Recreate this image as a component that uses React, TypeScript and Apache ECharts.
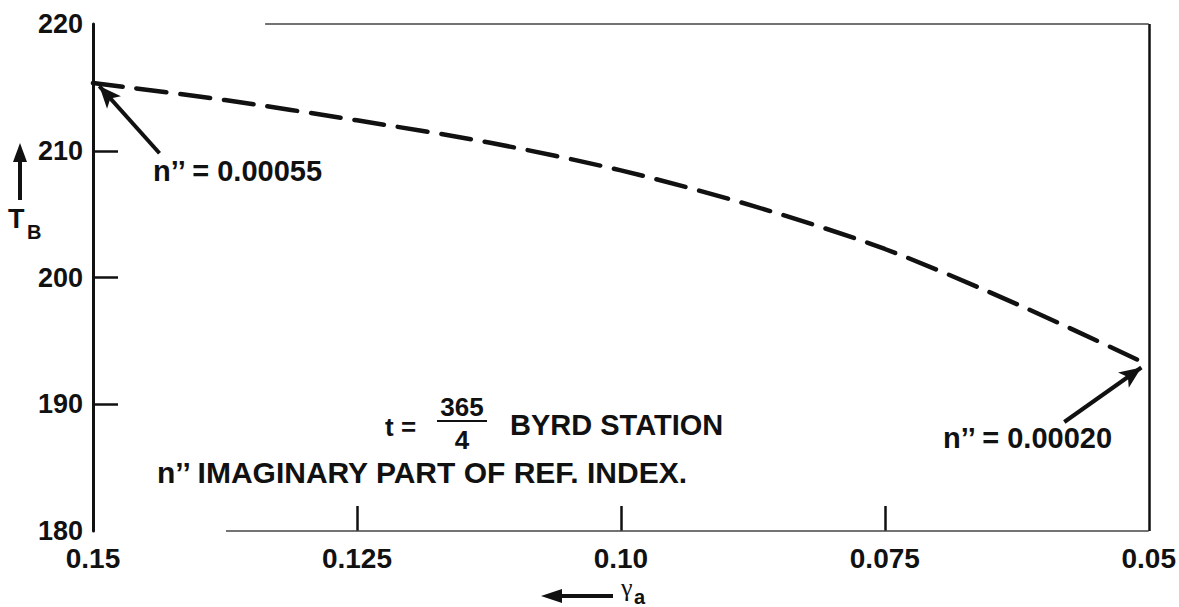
import React, { useEffect, useRef } from "react";
import * as echarts from "echarts";

const gammaValues = [0.15, 0.1375, 0.125, 0.1125, 0.1, 0.0875, 0.075, 0.0625, 0.05];
const tbValues = [215.35, 214.0, 212.4, 210.65, 208.45, 205.65, 202.25, 197.9, 193.1];
const xTickValues = [0.15, 0.125, 0.1, 0.075, 0.05];
const xTickLabels = ["0.15", "0.125", "0.10", "0.075", "0.05"];
const yTickValues = [180, 190, 200, 210, 220];
const yTickLabels = ["180", "190", "200", "210", "220"];
const yInnerTicks = [190, 200, 210];
const xInnerTicks = [0.125, 0.1, 0.075];

const FONT = "'Liberation Sans', Arial, Helvetica, sans-serif";
const INK = "#111";

export default function App() {
  const ref = useRef<HTMLDivElement>(null);
  useEffect(() => {
    document.body.style.margin = "0";
    const chart = echarts.init(ref.current!, null, { renderer: "svg" });
    const pickLabel = (v: number, vals: number[], labels: string[]) => {
      for (let i = 0; i < vals.length; i++) if (Math.abs(vals[i] - v) < 1e-6) return labels[i];
      return "";
    };
    const data = gammaValues.map((g, i) => [g, tbValues[i]]);
    const textBase = { fontFamily: FONT, fontWeight: "bold", fill: INK, verticalAlign: "middle" };
    chart.setOption({
      animation: false,
      backgroundColor: "#fff",
      grid: { left: 93, right: 27, top: 24, bottom: 76, containLabel: false },
      xAxis: {
        type: "value",
        inverse: true,
        min: 0.05,
        max: 0.15,
        interval: 0.025,
        splitLine: { show: false },
        axisLine: { show: false },
        axisTick: {
          show: true,
          inside: true,
          length: 25,
          customValues: xInnerTicks,
          lineStyle: { color: INK, width: 2.5 },
        },
        axisLabel: {
          margin: 13,
          fontFamily: FONT,
          fontWeight: "bold",
          fontSize: 28,
          color: INK,
          customValues: xTickValues,
          formatter: (v: number) => pickLabel(v, xTickValues, xTickLabels),
        },
      },
      yAxis: {
        type: "value",
        min: 180,
        max: 220,
        interval: 10,
        splitLine: { show: false },
        axisLine: { show: true, lineStyle: { color: INK, width: 3 } },
        axisTick: {
          show: true,
          inside: true,
          length: 25,
          customValues: yInnerTicks,
          lineStyle: { color: INK, width: 2.5 },
        },
        axisLabel: {
          margin: 10,
          fontFamily: FONT,
          fontWeight: "bold",
          fontSize: 27,
          color: INK,
          customValues: yTickValues,
          formatter: (v: number) => pickLabel(v, yTickValues, yTickLabels),
        },
      },
      series: [
        {
          type: "line",
          data,
          smooth: 0.3,
          symbol: "none",
          lineStyle: { color: INK, width: 4.5, type: [30, 14], cap: "round" },
          z: 3,
        },
        {
          type: "line",
          data: [],
          symbol: "none",
          silent: true,
          markLine: {
            silent: true,
            symbol: ["none", "none"],
            label: { show: false },
            data: [
              [
                { coord: [0.1337, 220], lineStyle: { color: "#444", width: 1.5, type: "solid" } },
                { coord: [0.05, 220] },
              ],
              [
                { coord: [0.1374, 180], lineStyle: { color: "#444", width: 1.5, type: "solid" } },
                { coord: [0.05, 180] },
              ],
              [
                { coord: [0.05, 180], lineStyle: { color: INK, width: 2.5, type: "solid" } },
                { coord: [0.05, 220] },
              ],
            ],
          },
        },
        {
          type: "line",
          data: [],
          symbol: "none",
          silent: true,
          markLine: {
            silent: true,
            symbol: ["none", "arrow"],
            symbolSize: [14, 22],
            label: { show: false },
            lineStyle: { color: INK, width: 4, type: "solid" },
            data: [
              [{ coord: [0.1437, 209.8] }, { coord: [0.1494, 215.1] }],
              [{ coord: [0.058, 188.6] }, { coord: [0.0507, 192.9] }],
            ],
          },
        },
      ],
      graphic: [
        { type: "text", x: 153, y: 171, style: { ...textBase, text: "n’’ = 0.00055", fontSize: 29 } },
        { type: "text", x: 943, y: 438, style: { ...textBase, text: "n’’ = 0.00020", fontSize: 29 } },
        { type: "text", x: 385, y: 427, style: { ...textBase, text: "t =", fontSize: 26 } },
        { type: "text", x: 462, y: 407, style: { ...textBase, text: "365", fontSize: 26, align: "center" } },
        { type: "line", shape: { x1: 437, y1: 421, x2: 487, y2: 421 }, style: { stroke: INK, lineWidth: 2 } },
        { type: "text", x: 462, y: 440, style: { ...textBase, text: "4", fontSize: 26, align: "center" } },
        { type: "text", x: 510, y: 425, style: { ...textBase, text: "BYRD STATION", fontSize: 29 } },
        { type: "text", x: 157, y: 472, style: { ...textBase, text: "n’’ IMAGINARY PART OF REF. INDEX.", fontSize: 30 } },
        { type: "text", x: 8, y: 219, style: { ...textBase, text: "T", fontSize: 27 } },
        { type: "text", x: 27, y: 232, style: { ...textBase, text: "B", fontSize: 20 } },
        { type: "line", shape: { x1: 20, y1: 200, x2: 20, y2: 158 }, style: { stroke: INK, lineWidth: 4 } },
        { type: "polygon", shape: { points: [[20, 143], [13, 162], [27, 162]] }, style: { fill: INK } },
        { type: "line", shape: { x1: 613, y1: 596, x2: 556, y2: 596 }, style: { stroke: INK, lineWidth: 4 } },
        { type: "polygon", shape: { points: [[541, 596], [562, 589], [562, 603]] }, style: { fill: INK } },
        { type: "text", x: 621, y: 587, style: { fontFamily: "'Liberation Serif', serif", fill: INK, text: "γ", fontSize: 26, verticalAlign: "middle" } },
        { type: "text", x: 634, y: 597, style: { ...textBase, text: "a", fontSize: 20 } },
      ],
    });
    return () => chart.dispose();
  }, []);
  return (
    <div
      ref={ref}
      style={{ position: "absolute", left: 0, top: 0, width: 1179, height: 607 }}
    />
  );
}
